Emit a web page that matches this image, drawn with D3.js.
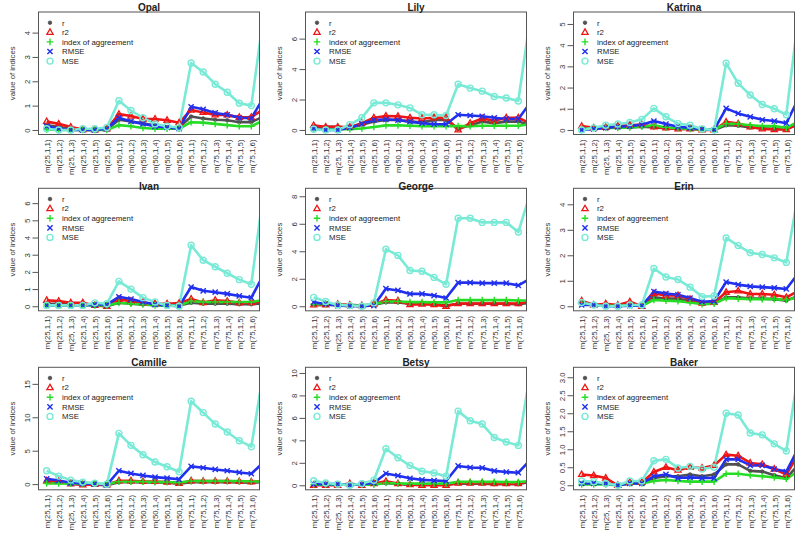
<!DOCTYPE html>
<html><head><meta charset="utf-8">
<script src="https://cdn.jsdelivr.net/npm/d3@7"></script>
<style>
body{margin:0;background:#fff}
svg{display:block}
text{font-family:"Liberation Sans",Arial,Helvetica,sans-serif}
</style>
</head><body>
<svg id="c" width="800" height="536"></svg>
<script>
// ---------------- data ----------------
const categories = ["m(25,1,1)","m(25,1,2)","m(25, 1,3)","m(25,1,4)","m(25,1,5)","m(25,1,6)",
  "m(50,1,1)","m(50,1,2)","m(50,1,3)","m(50,1,4)","m(50,1,5)","m(50,1,6)",
  "m(75,1,1)","m(75,1,2)","m(75,1,3)","m(75,1,4)","m(75,1,5)","m(75,1,6)"];
const seriesNames = ["r","r2","index of aggreement","RMSE","MSE"];
const panelNames = ["Opal","Lily","Katrina","Ivan","George","Erin","Camille","Betsy","Baker"];
// each series has 19 values; the 19th lies past the right edge of the plot region (clipped)
const opalValues = [
  [0.2,0.12,0.05,0.0,0.0,0.02,0.42,0.35,0.27,0.18,0.12,0.1,0.55,0.47,0.42,0.4,0.32,0.32,0.55],
  [0.35,0.25,0.12,0.02,0.0,0.05,0.65,0.57,0.45,0.45,0.4,0.3,0.82,0.72,0.62,0.62,0.52,0.52,0.86],
  [0.02,0.0,0.0,0.0,0.0,0.0,0.2,0.15,0.08,0.05,0.05,0.05,0.32,0.3,0.25,0.2,0.15,0.15,0.4],
  [0.15,0.05,0.0,0.0,0.0,0.05,0.5,0.35,0.25,0.15,0.1,0.05,0.95,0.85,0.7,0.62,0.5,0.48,1.32],
  [0.05,0.0,0.0,0.05,0.05,0.1,1.2,0.8,0.5,0.25,0.15,0.1,2.75,2.38,1.88,1.55,1.1,1.0,4.66]];
const lilyValues = [
  [0.2,0.2,0.2,0.15,0.35,0.55,0.65,0.65,0.55,0.5,0.65,0.65,0.1,0.3,0.55,0.45,0.55,0.55,0.33],
  [0.3,0.2,0.2,0.18,0.45,0.8,0.92,0.9,0.8,0.75,0.8,0.8,0.0,0.45,0.75,0.6,0.8,0.8,0.43],
  [0.05,0.05,0.05,0.05,0.1,0.2,0.3,0.3,0.28,0.25,0.25,0.25,0.25,0.25,0.28,0.28,0.28,0.28,0.38],
  [0.1,0.0,0.0,0.15,0.4,0.65,0.7,0.65,0.55,0.45,0.38,0.38,1.0,0.95,0.9,0.8,0.72,0.72,1.8],
  [0.05,0.0,0.0,0.35,0.8,1.78,1.78,1.65,1.45,1.0,1.0,0.95,3.0,2.75,2.55,2.2,2.1,1.9,7.45]];
const katrinaValues = [
  [0.05,0.08,0.1,0.12,0.12,0.15,0.12,0.08,0.05,0.05,0.02,0.0,0.22,0.2,0.12,0.08,0.05,0.05,0.27],
  [0.18,0.1,0.12,0.18,0.22,0.25,0.15,0.1,0.05,0.05,0.0,0.0,0.38,0.3,0.15,0.05,0.02,0.02,0.28],
  [0.05,0.08,0.1,0.1,0.12,0.15,0.22,0.12,0.08,0.05,0.02,0.02,0.3,0.28,0.22,0.18,0.18,0.1,0.4],
  [0.0,0.05,0.1,0.15,0.18,0.25,0.42,0.28,0.15,0.1,0.05,0.0,1.02,0.78,0.62,0.48,0.42,0.32,1.47],
  [0.0,0.1,0.22,0.28,0.35,0.5,1.02,0.62,0.3,0.22,0.05,0.0,3.15,2.2,1.65,1.2,1.0,0.72,5.35]];
const ivanValues = [
  [0.15,0.15,0.12,0.12,0.05,0.0,0.2,0.15,0.1,0.08,0.05,0.05,0.2,0.15,0.15,0.15,0.12,0.12,0.17],
  [0.35,0.3,0.2,0.2,0.05,0.0,0.4,0.3,0.2,0.15,0.15,0.18,0.42,0.22,0.35,0.3,0.2,0.22,0.27],
  [0.05,0.05,0.05,0.05,0.05,0.05,0.2,0.15,0.1,0.05,0.05,0.05,0.3,0.25,0.25,0.25,0.25,0.25,0.37],
  [0.05,0.05,0.05,0.05,0.1,0.1,0.55,0.42,0.25,0.1,0.05,0.0,1.12,0.9,0.82,0.72,0.6,0.5,1.82],
  [0.05,0.05,0.05,0.05,0.2,0.15,1.45,1.0,0.5,0.25,0.05,0.0,3.55,2.68,2.3,1.92,1.55,1.28,6.6]];
const georgeValues = [
  [0.1,0.1,0.1,0.05,0.02,0.1,0.3,0.28,0.18,0.18,0.15,0.05,0.18,0.18,0.18,0.18,0.18,0.15,0.25],
  [0.1,0.1,0.15,0.1,0.05,0.15,0.45,0.4,0.12,0.15,0.12,0.0,0.2,0.2,0.2,0.2,0.2,0.2,0.35],
  [0.15,0.15,0.1,0.05,0.05,0.15,0.35,0.35,0.3,0.3,0.28,0.28,0.45,0.45,0.45,0.45,0.45,0.42,0.42],
  [0.3,0.15,0.05,0.02,0.0,0.05,1.28,1.15,0.9,0.9,0.78,0.6,1.72,1.72,1.68,1.68,1.68,1.52,2.0],
  [0.65,0.35,0.1,0.05,0.0,0.25,4.15,3.7,2.6,2.55,2.1,1.6,6.4,6.4,6.1,6.1,6.1,5.4,8.25]];
const erinValues = [
  [0.15,0.05,0.05,0.02,0.1,0.0,0.35,0.3,0.3,0.2,0.1,0.12,0.35,0.35,0.3,0.3,0.28,0.22,0.41],
  [0.22,0.05,0.1,0.05,0.18,0.0,0.5,0.42,0.42,0.28,0.12,0.15,0.55,0.6,0.48,0.48,0.45,0.35,0.6],
  [0.1,0.05,0.02,0.02,0.05,0.02,0.25,0.22,0.2,0.15,0.08,0.1,0.32,0.3,0.28,0.28,0.28,0.25,0.35],
  [0.05,0.05,0.0,0.0,0.02,0.02,0.58,0.5,0.45,0.32,0.18,0.2,0.95,0.85,0.78,0.75,0.72,0.68,1.3],
  [0.15,0.05,0.0,0.0,0.05,0.05,1.48,1.15,1.05,0.75,0.38,0.4,2.68,2.38,2.1,2.03,1.9,1.72,4.45]];
const camilleValues = [
  [0.3,0.3,0.05,-0.1,-0.1,-0.17,0.3,0.3,0.25,0.25,0.2,0.05,0.3,0.3,0.3,0.3,0.25,0.2,0.3],
  [0.5,0.4,0.05,-0.1,-0.05,-0.1,0.5,0.5,0.4,0.4,0.3,0.1,0.5,0.45,0.45,0.45,0.4,0.35,0.45],
  [0.1,0.1,0.05,0.05,0.05,0.0,0.35,0.35,0.35,0.3,0.3,0.25,0.45,0.45,0.45,0.45,0.45,0.4,0.4],
  [0.8,0.55,0.2,0.1,0.05,-0.1,2.0,1.6,1.3,1.05,0.9,0.72,2.65,2.45,2.2,2.0,1.75,1.55,3.24],
  [2.0,1.2,0.6,0.3,0.15,0.0,7.6,5.8,4.4,3.3,2.6,1.85,12.4,10.7,9.0,7.8,6.5,5.6,16.8]];
const betsyValues = [
  [0.05,0.05,0.05,0.1,0.05,0.1,0.2,0.1,0.05,0.05,0.05,0.05,0.15,0.15,0.15,0.1,0.1,0.1,0.32],
  [0.0,0.0,0.0,0.15,0.0,0.15,0.35,0.15,0.05,0.0,0.0,0.0,0.2,0.2,0.2,0.15,0.15,0.15,0.37],
  [0.05,0.05,0.05,0.05,0.05,0.05,0.2,0.15,0.15,0.15,0.15,0.15,0.3,0.3,0.3,0.3,0.28,0.28,0.38],
  [0.1,0.1,0.1,0.0,0.1,0.2,1.05,0.85,0.62,0.48,0.42,0.38,1.72,1.58,1.55,1.28,1.18,1.12,2.27],
  [0.4,0.2,0.1,0.0,0.15,0.45,3.25,2.45,1.75,1.25,1.1,0.8,6.6,5.75,5.45,4.25,3.85,3.55,10.1]];
const bakerValues = [
  [0.05,0.05,0.05,0.0,0.05,0.05,0.2,0.25,0.25,0.3,0.25,0.3,0.58,0.58,0.4,0.38,0.28,0.2,0.57],
  [0.3,0.27,0.2,0.0,0.08,0.08,0.37,0.5,0.42,0.5,0.48,0.55,0.85,0.82,0.62,0.58,0.45,0.3,0.86],
  [0.02,0.02,0.02,0.0,0.05,0.05,0.12,0.15,0.12,0.1,0.1,0.1,0.32,0.32,0.28,0.25,0.22,0.18,0.39],
  [0.05,0.05,0.05,0.0,0.05,0.05,0.25,0.3,0.2,0.22,0.2,0.2,0.72,0.72,0.55,0.55,0.45,0.38,1.03],
  [0.12,0.1,0.05,0.0,0.12,0.12,0.68,0.72,0.48,0.52,0.45,0.5,2.0,1.95,1.45,1.4,1.15,0.95,3.15]];
const panelValues = [opalValues, lilyValues, katrinaValues, ivanValues, georgeValues, erinValues, camilleValues, betsyValues, bakerValues];
const yTickValues = [[0,1,2,3,4],[0,2,4,6],[0,1,2,3,4,5],[0,1,2,3,4,5,6],[0,2,4,6,8],[0,1,2,3,4],[0,5,10,15],[0,2,4,6,8,10],[0,0.5,1,1.5,2,2.5,3]];
const yTickLabels = [["0","1","2","3","4"],["0","2","4","6"],["0","1","2","3","4","5"],["0","1","2","3","4","5","6"],["0","2","4","6","8"],["0","1","2","3","4"],["0","5","10","15"],["0","2","4","6","8","10"],["0.0","0.5","1.0","1.5","2.0","2.5","3.0"]];

// ---------------- styles / layout ----------------
const colors = ["#505050","#ee1515","#25dd25","#2030ee","#78ead6"];
const shapes = ["dot","triangle","plus","times","circle"];
const colLeft = [38.5, 305.5, 573.5];
const rowTop = [12, 188.3, 367.3];
const titleY = [10.5, 189.5, 366];
const boxW = 221, boxH = 122.5;
const fs = 7.8;

const svg = d3.select("#c");

function marker(sel, shape, color) {
  if (shape === "dot") {
    sel.append("circle").attr("r", 1.8).attr("fill", color).attr("stroke", color).attr("stroke-width", 0.8);
  } else if (shape === "circle") {
    sel.append("circle").attr("r", 3).attr("fill", "none").attr("stroke", color).attr("stroke-width", 1.4);
  } else if (shape === "triangle") {
    sel.append("path").attr("d", d3.line()([[0,-3.4],[3.1,2],[-3.1,2]]) + "Z")
      .attr("fill", "none").attr("stroke", color).attr("stroke-width", 1.3);
  } else if (shape === "plus") {
    sel.append("path").attr("d", "M-3.3,0H3.3M0,-3.3V3.3").attr("stroke", color).attr("stroke-width", 1.4);
  } else {
    sel.append("path").attr("d", "M-2.6,-2.6L2.6,2.6M-2.6,2.6L2.6,-2.6").attr("stroke", color).attr("stroke-width", 1.4);
  }
}

panelNames.forEach((name, p) => {
  const col = p % 3, row = Math.floor(p / 3);
  const left = colLeft[col], top = rowTop[row];
  const right = left + boxW, bottom = top + boxH;
  const vals = panelValues[p];
  const all = vals.flat();
  const mn = d3.min(all), mx = d3.max(all), pad = 0.04 * (mx - mn);
  const y = d3.scaleLinear().domain([mn - pad, mx + pad]).range([bottom, top]);
  const x = d3.scaleLinear().domain([0.32, 18.68]).range([left, right]);
  const g = svg.append("g");

  const clipId = "clip" + p;
  svg.append("clipPath").attr("id", clipId).append("rect")
    .attr("x", left).attr("y", top).attr("width", boxW).attr("height", boxH);

  const plot = g.append("g").attr("clip-path", `url(#${clipId})`);
  const line = d3.line().x((d, i) => x(i + 1)).y(d => y(d));
  vals.forEach((s, k) => {
    plot.append("path").datum(s).attr("d", line).attr("fill", "none")
      .attr("stroke", colors[k]).attr("stroke-width", 2.6).attr("stroke-linejoin", "round");
  });
  vals.forEach((s, k) => {
    s.forEach((v, i) => {
      const m = plot.append("g").attr("transform", `translate(${x(i + 1)},${y(v)})`);
      marker(m, shapes[k], colors[k]);
    });
  });

  // box
  g.append("rect").attr("x", left).attr("y", top).attr("width", boxW).attr("height", boxH)
    .attr("fill", "none").attr("stroke", "#555").attr("stroke-width", 1);

  // y axis
  const yAxis = d3.axisLeft(y).tickValues(yTickValues[p]).tickSize(6)
    .tickFormat((d, i) => yTickLabels[p][i]);
  const ya = g.append("g").attr("transform", `translate(${left},0)`).call(yAxis);
  ya.select(".domain").remove();
  ya.selectAll(".tick line").attr("stroke", "#555");
  ya.selectAll(".tick text").attr("x", null).attr("dy", null).attr("text-anchor", "middle")
    .attr("transform", "translate(-9,0) rotate(-90)")
    .attr("font-size", fs).attr("fill", "#333").attr("font-family", "Liberation Sans, Arial, sans-serif");

  // x axis labels
  const xa = d3.axisBottom(x).tickValues(d3.range(1, 19)).tickSize(0)
    .tickFormat((d) => categories[d - 1]);
  const xg = g.append("g").attr("transform", `translate(0,${bottom})`).call(xa);
  xg.select(".domain").remove();
  xg.selectAll(".tick text").attr("y", null).attr("dy", null)
    .attr("text-anchor", "end").attr("transform", "translate(2.8,5) rotate(-90)")
    .attr("font-size", fs).attr("fill", "#333").attr("font-family", "Liberation Sans, Arial, sans-serif");

  // y title
  g.append("text").attr("transform", `translate(${left - 24},${(top + bottom) / 2}) rotate(-90)`)
    .attr("text-anchor", "middle").attr("font-size", fs).attr("fill", "#333").text("value of indices");

  // title
  g.append("text").attr("x", (left + right) / 2).attr("y", titleY[row])
    .attr("text-anchor", "middle").attr("font-size", 10).attr("font-weight", "bold").attr("fill", "#222").text(name);

  // legend
  seriesNames.forEach((s, k) => {
    const ly = top + 10.7 + k * 9.6;
    const m = g.append("g").attr("transform", `translate(${left + 11.5},${ly})`);
    marker(m, shapes[k], colors[k]);
    g.append("text").attr("x", left + 23.5).attr("y", ly + 2.8).attr("font-size", fs)
      .attr("fill", "#222").text(s);
  });
});
</script>
</body></html>
